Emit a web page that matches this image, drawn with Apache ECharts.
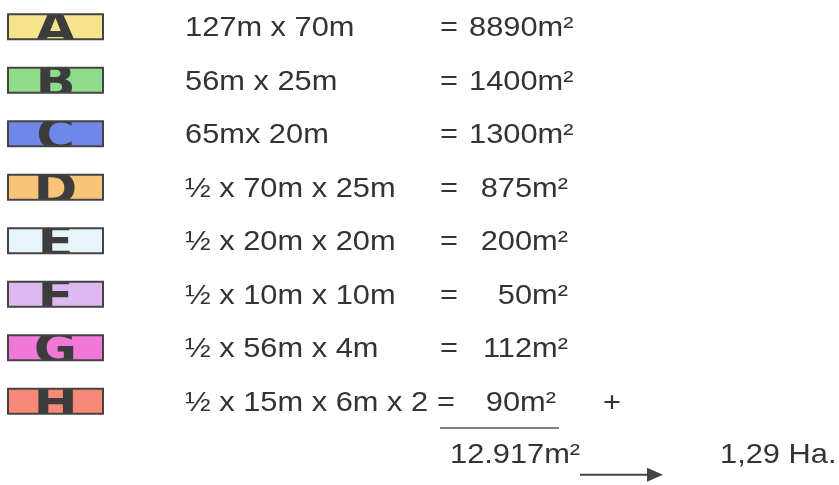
<!DOCTYPE html>
<html>
<head>
<meta charset="utf-8">
<script src="https://cdn.jsdelivr.net/npm/echarts@6/dist/echarts.min.js"></script>
<style>html,body{margin:0;padding:0;background:#fff;}#c{width:839px;height:485px;}</style>
</head>
<body>
<div id="c"></div>
<script>
const categories = ['A', 'B', 'C', 'D', 'E', 'F', 'G', 'H', 'Total'];
const letters = ['A', 'B', 'C', 'D', 'E', 'F', 'G', 'H'];
const boxColors = ['#f6e48c', '#8edc8a', '#6f88e8', '#f8c478', '#e6f5fa', '#deb8f0', '#f078d8', '#f88878'];
const formulas = ['127m x 70m', '56m x 25m', '65mx 20m', '½ x 70m x 25m', '½ x 20m x 20m', '½ x 10m x 10m', '½ x 56m x 4m', '½ x 15m x 6m x 2'];
const results = ['8890m²', '1400m²', '1300m²', '875m²', '200m²', '50m²', '112m²', '90m²'];
const totalArea = '12.917m²';
const hectares = '1,29 Ha.';

const TXT = '#333333';
const FONT = "28px 'Liberation Sans', Arial, sans-serif";
const SX = 1.1;
const DY = 2;

function txt(x, y, s, align, font, color, sx) {
  return {
    type: 'text', x: x, y: y, scaleX: sx || SX,
    style: {
      text: s, fill: color || TXT, font: font || FONT,
      textAlign: align || 'left', textVerticalAlign: 'middle',
      align: align || 'left', verticalAlign: 'middle'
    }
  };
}

const chart = echarts.init(document.getElementById('c'));
chart.setOption({
  animation: false,
  backgroundColor: '#ffffff',
  grid: { left: 0, right: 0, top: 0, bottom: 3.5 },
  xAxis: { type: 'value', min: 0, max: 839, show: false },
  yAxis: { type: 'category', data: categories, inverse: true, show: false },
  series: [
    {
      type: 'custom',
      data: letters.map((l, i) => [0, i]),
      renderItem: function (params, api) {
        const i = params.dataIndex;
        const y = api.coord([0, i])[1];
        const ty = y + DY;
        const children = [];
        children.push({
          type: 'rect',
          shape: { x: 8, y: y - 12.5, width: 95, height: 25 },
          style: { fill: boxColors[i] }
        });
        children.push(txt(55.5, y + 5, letters[i], 'center', "bold 44px 'DejaVu Sans', sans-serif", '#3c3c3c', 1.2));
        children.push({
          type: 'rect',
          shape: { x: 4, y: y - 34, width: 103, height: 21.5 },
          style: { fill: '#ffffff' }
        });
        children.push({
          type: 'rect',
          shape: { x: 4, y: y + 12.5, width: 103, height: 21.5 },
          style: { fill: '#ffffff' }
        });
        children.push({
          type: 'rect',
          shape: { x: 8, y: y - 12.5, width: 95, height: 25 },
          style: { fill: 'none', stroke: '#444444', lineWidth: 2 }
        });
        children.push(txt(185, ty, formulas[i], 'left'));
        children.push(txt(i === 7 ? 437 : 440, ty, '=', 'left'));
        if (i < 3) {
          children.push(txt(469, ty, results[i], 'left'));
        } else if (i < 7) {
          children.push(txt(568, ty, results[i], 'right'));
        } else {
          children.push(txt(556, ty, results[i], 'right'));
          children.push(txt(603, ty, '+', 'left'));
        }
        return { type: 'group', children: children };
      }
    },
    {
      type: 'custom',
      data: [[0, 8]],
      renderItem: function (params, api) {
        const y7 = api.coord([0, 7])[1];
        const y8 = api.coord([0, 8])[1];
        const ly = (y7 + y8) / 2;
        const ay = y8 + 20;
        return {
          type: 'group',
          children: [
            { type: 'line', shape: { x1: 440, y1: ly, x2: 559, y2: ly }, style: { stroke: '#555555', lineWidth: 1.5 } },
            txt(450, y8 + 1, totalArea, 'left'),
            { type: 'line', shape: { x1: 580, y1: ay, x2: 650, y2: ay }, style: { stroke: '#444444', lineWidth: 2 } },
            { type: 'polygon', shape: { points: [[647, ay - 7], [663, ay], [647, ay + 7]] }, style: { fill: '#444444' } },
            txt(720, y8 + 1, hectares, 'left')
          ]
        };
      }
    }
  ]
});
</script>
</body>
</html>
